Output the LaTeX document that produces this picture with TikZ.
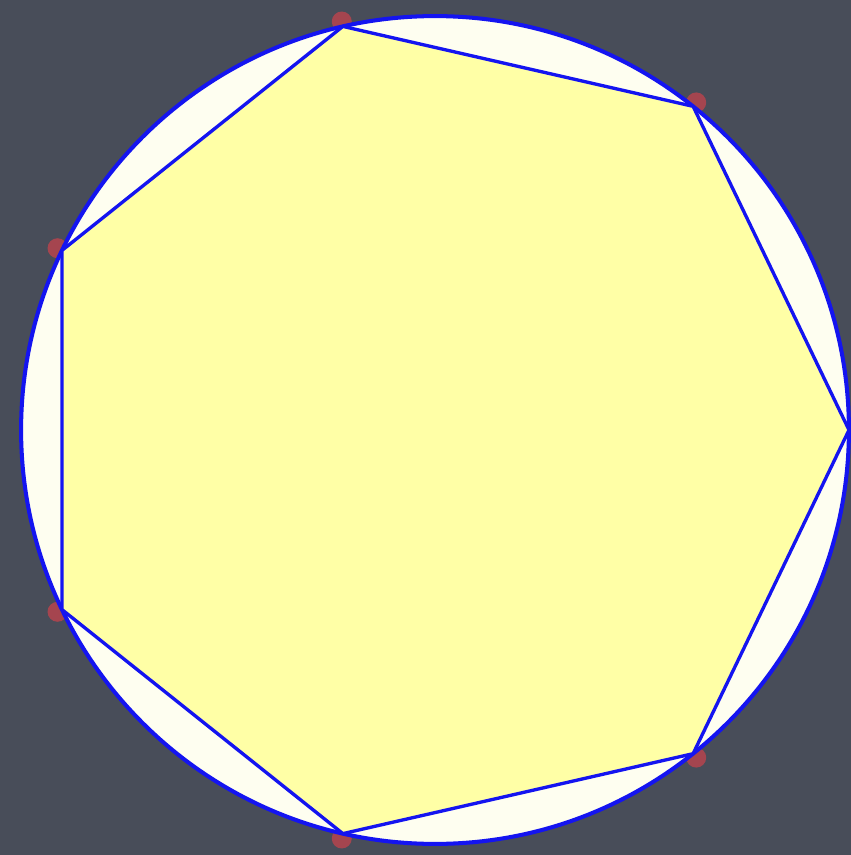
\documentclass[tikz,border=0pt]{standalone}
\usetikzlibrary{calc}
\definecolor{bgslate}{HTML}{484D59}
\definecolor{ivory}{HTML}{FEFEF0}
\definecolor{polyyellow}{HTML}{FFFFA6}
\definecolor{edgeblue}{HTML}{1414F0}
\definecolor{dotred}{HTML}{A5454F}
\tikzset{
  outline/.style={draw=edgeblue, line width=2.3pt, fill=ivory},
  polyedge/.style={draw=edgeblue, line width=1.9pt, fill=polyyellow, line join=miter},
  vdot/.style={fill=dotred}
}
\begin{document}
\begin{tikzpicture}[x=0.02cm,y=-0.02cm]
\fill[bgslate] (0,0) rectangle (851,855);
\useasboundingbox (0,0) rectangle (851,855);
\coordinate (O) at (435,430);
\foreach \i in {0,...,6} {
  \coordinate (v\i) at ($(O)+({\i*360/7}:414)$);
  \coordinate (d\i) at ($(O)+({\i*360/7}:419)$);
}
\foreach \i in {1,...,6} \fill[vdot] (d\i) circle[radius=0.2cm];
\draw[outline] (O) circle[radius=8.28cm];
\draw[polyedge] (v0) -- (v1) -- (v2) -- (v3) -- (v4) -- (v5) -- (v6) -- cycle;
\end{tikzpicture}
\end{document}
